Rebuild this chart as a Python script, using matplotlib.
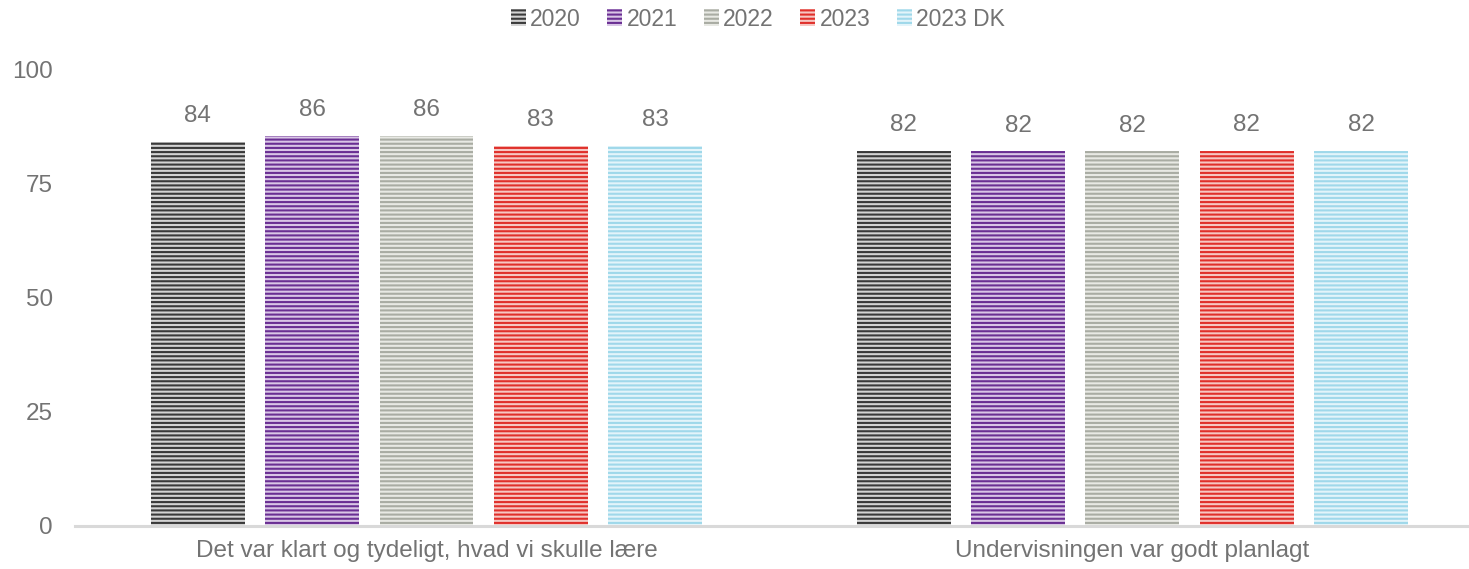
import matplotlib.pyplot as plt
import numpy as np

plt.rcParams['font.family'] = ['Liberation Sans', 'DejaVu Sans']
plt.rcParams['hatch.linewidth'] = 1.5

#--------------data------------------------------------------
categories = ["Det var klart og tydeligt, hvad vi skulle lære",
              "Undervisningen var godt planlagt"]
series = ["2020", "2021", "2022", "2023", "2023 DK"]
values_2020 = [84.3, 82.3]
values_2021 = [85.6, 82.2]
values_2022 = [85.6, 82.2]
values_2023 = [83.4, 82.3]
values_2023dk = [83.4, 82.3]
all_values = [values_2020, values_2021, values_2022, values_2023, values_2023dk]

dark = ["#3a3a3a", "#6a2f93", "#a9aca3", "#e0302b", "#9fd8ea"]
light = ["#d4d4d4", "#d9c6e6", "#e8e9e4", "#f6c7c3", "#e3f4fa"]
#--------------data------------------------------------------

text_col = "#737373"
fs = 17.5

fig = plt.figure(figsize=(14.69, 5.69), dpi=100)
ax = fig.add_axes([75 / 1469, 1 - 526 / 569, 1 - 75 / 1469, (526 - 70) / 569])

x = np.arange(len(categories))
width = 0.133
step = 0.162
handles = []
for i, (name, vals) in enumerate(zip(series, all_values)):
    off = (i - 2) * step
    bars = ax.bar(x + off, vals, width, color=light[i], edgecolor=dark[i],
                  linewidth=0, hatch="----", label=name)
    handles.append(bars)
    for xi, v in zip(x + off, vals):
        ax.text(xi, v + 3.2, "%.0f" % v, ha="center", va="bottom",
                fontsize=fs, color=text_col)

ax.set_xlim(-0.498, 1.477)
ax.set_ylim(0, 100)
ax.set_yticks([0, 25, 50, 75, 100])
ax.set_xticks(x)
ax.set_xticklabels(categories)
ax.tick_params(axis="both", length=0, labelsize=fs, colors=text_col)
ax.tick_params(axis="y", pad=16)
ax.tick_params(axis="x", pad=10)
for s in ["top", "right", "left"]:
    ax.spines[s].set_visible(False)
ax.spines["bottom"].set_color("#d9d9d9")
ax.spines["bottom"].set_linewidth(2.2)

leg = fig.legend(handles=handles, labels=series, loc="center",
                 bbox_to_anchor=(758 / 1469, 1 - 19 / 569), ncol=5,
                 frameon=False, fontsize=16.5, handlelength=0.65,
                 handleheight=0.7, handletextpad=0.2, columnspacing=1.15)
for t in leg.get_texts():
    t.set_color(text_col)

fig.savefig("out.png", dpi=100)
